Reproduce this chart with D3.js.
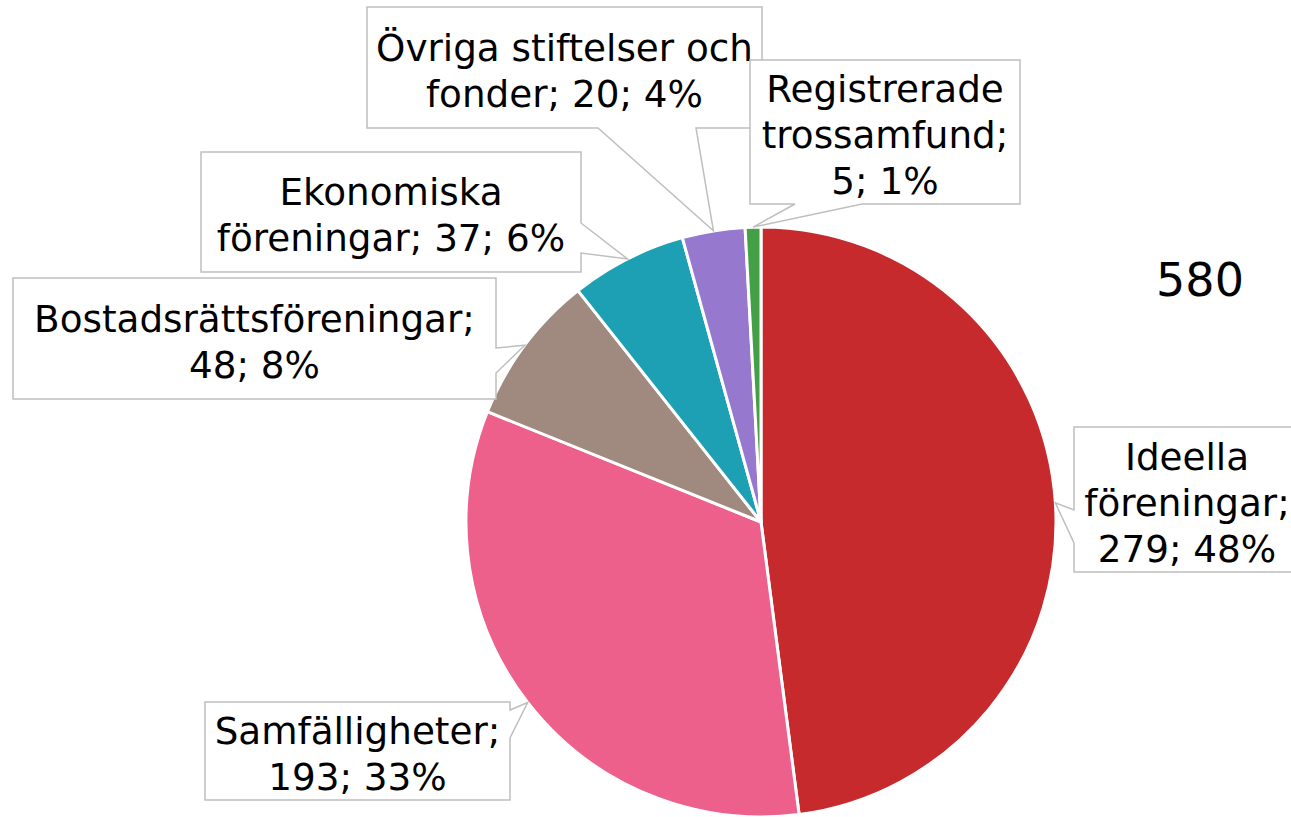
<!DOCTYPE html>
<html>
<head>
<meta charset="utf-8">
<script src="https://cdn.jsdelivr.net/npm/d3@7/dist/d3.min.js"></script>
<style>
  html, body { margin: 0; padding: 0; background: #fff; }
  svg { display: block; }
  text { font-family: "DejaVu Sans", Verdana, sans-serif; fill: #000; }
</style>
</head>
<body>
<svg id="chart" width="1291" height="817"></svg>
<script>
// ---- Data ----
const categories = ["Ideella föreningar", "Samfälligheter", "Bostadsrättsföreningar",
                    "Ekonomiska föreningar", "Övriga stiftelser och fonder", "Registrerade trossamfund"];
const values = [279, 193, 48, 37, 20, 5];
const percents = [48, 33, 8, 6, 4, 1];
const totalLabel = "580";
const colors = ["#C62A2D", "#EE608C", "#A0897E", "#1EA0B4", "#9778CF", "#43A047"];

// ---- Layout (callout boxes) ----
const layout = [
  { box: [1074, 427, 1300, 572], side: "left",   base: [510, 543], breaks: [0, 1] },
  { box: [205, 702, 510, 800],   side: "right",  base: [710, 738], breaks: [0] },
  { box: [13, 278, 496, 399],    side: "right",  base: [348, 373], breaks: [0] },
  { box: [201, 152, 581, 272],   side: "right",  base: [223, 253], breaks: [0] },
  { box: [367, 7, 762, 128],     side: "bottom", base: [598, 696], breaks: [2] },
  { box: [750, 60, 1020, 204],   side: "bottom", base: [795, 862], breaks: [0, 1] }
];

const svg = d3.select("#chart");
const cx = 761, cy = 522, R = 295;
const g = svg.append("g").attr("transform", `translate(${cx},${cy})`);

const pie = d3.pie().sort(null).value(d => d)(values);
const arc = d3.arc().innerRadius(0).outerRadius(R);

g.selectAll("path.slice").data(pie).join("path")
  .attr("class", "slice")
  .attr("d", arc)
  .attr("fill", (d, i) => colors[i])
  .attr("stroke", "#fff")
  .attr("stroke-width", 3)
  .attr("stroke-linejoin", "round");

// callouts
function calloutPath(L, tip) {
  const [x0, y0, x1, y1] = L.box;
  const [a, b] = L.base;
  const p = d3.path();
  p.moveTo(x0, y0);
  if (L.side === "top") { p.lineTo(a, y0); p.lineTo(tip[0], tip[1]); p.lineTo(b, y0); }
  p.lineTo(x1, y0);
  if (L.side === "right") { p.lineTo(x1, a); p.lineTo(tip[0], tip[1]); p.lineTo(x1, b); }
  p.lineTo(x1, y1);
  if (L.side === "bottom") { p.lineTo(b, y1); p.lineTo(tip[0], tip[1]); p.lineTo(a, y1); }
  p.lineTo(x0, y1);
  if (L.side === "left") { p.lineTo(x0, b); p.lineTo(tip[0], tip[1]); p.lineTo(x0, a); }
  p.closePath();
  return p.toString();
}

const fontSize = 37.3, lineH = 46;
pie.forEach((d, i) => {
  const L = layout[i];
  const mid = (d.startAngle + d.endAngle) / 2;
  const tip = [cx + R * Math.sin(mid), cy - R * Math.cos(mid)];
  svg.append("path")
    .attr("d", calloutPath(L, tip))
    .attr("fill", "#fff")
    .attr("stroke", "#BFBFBF")
    .attr("stroke-width", 1.5);

  const tokens = `${categories[i]}; ${values[i]}; ${percents[i]}%`.split(" ");
  const lines = [];
  let cur = [];
  tokens.forEach((t, k) => {
    cur.push(t);
    if (L.breaks.includes(k)) { lines.push(cur.join(" ")); cur = []; }
  });
  if (cur.length) lines.push(cur.join(" "));

  const [x0, y0, x1, y1] = L.box;
  const bx = (x0 + x1) / 2, by = (y0 + y1) / 2;
  const n = lines.length;
  const t = svg.append("text")
    .attr("text-anchor", "middle")
    .attr("font-size", fontSize);
  lines.forEach((ln, k) => {
    t.append("tspan")
      .attr("x", bx)
      .attr("y", by + (k - (n - 1) / 2) * lineH + 16)
      .text(ln);
  });
});

svg.append("text")
  .attr("x", 1200).attr("y", 296)
  .attr("text-anchor", "middle")
  .attr("font-size", 46)
  .text(totalLabel);
</script>
</body>
</html>
